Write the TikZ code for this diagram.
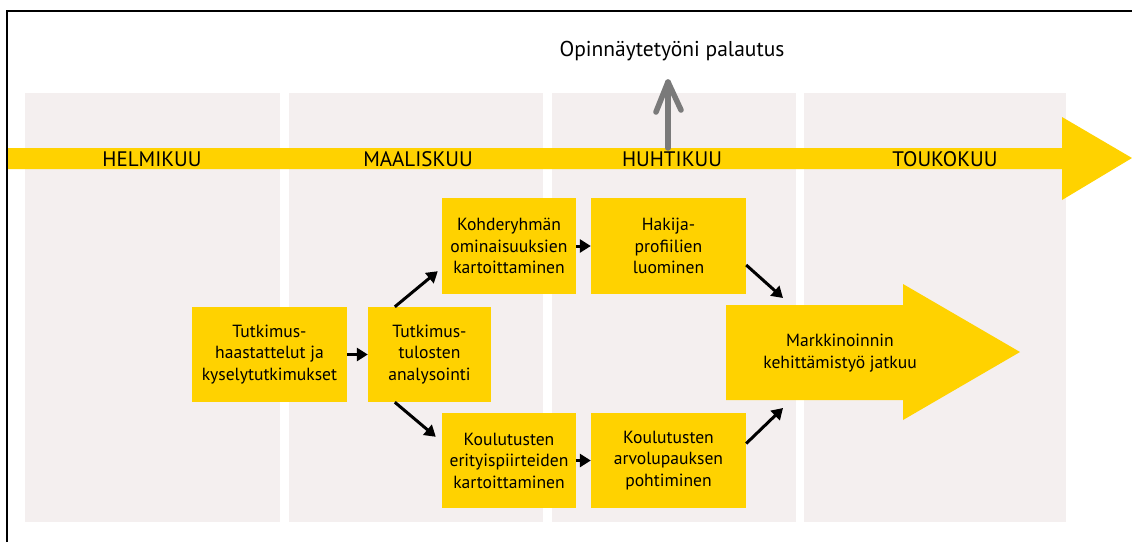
\documentclass[tikz,border=0pt]{standalone}
\usepackage{fontspec}
\setmainfont{PT Sans}
\usetikzlibrary{arrows.meta}

\definecolor{ykeltainen}{HTML}{FFD200}
\definecolor{sarake}{HTML}{F4EFEF}
\definecolor{harmaa}{HTML}{7A7A7A}

\tikzset{
    tehtava/.style={fill=ykeltainen, inner sep=0pt, align=center, font=\fontsize{17.6}{21.5}\selectfont},
    kuukausi/.style={font=\fontsize{21}{24}\selectfont},
    nuoli/.style={line width=3pt, -{Triangle[width=13pt,length=11pt]}}
}

\begin{document}
\begin{tikzpicture}[x=1pt, y=-1pt]
        \useasboundingbox (0, 0) rectangle (1132, 542);

        \draw[line width=2pt] (7, 542) -- (7, 11) -- (1132, 11);

        % kuukausisarakkeet
        \fill[sarake] (25, 93) rectangle (280, 522);
        \fill[sarake] (289, 93) rectangle (543, 522);
        \fill[sarake] (552, 93) rectangle (796, 522);
        \fill[sarake] (804, 93) rectangle (1066, 522);

        % aikajana
        \fill[ykeltainen] (8, 148) -- (1062, 148) -- (1062, 117) -- (1132, 158)
            -- (1062, 200) -- (1062, 169) -- (8, 169) -- cycle;

        \node[kuukausi] (helmi) at (152, 159) {HELMIKUU};
        \node[kuukausi] (maalis) at (418, 159) {MAALISKUU};
        \node[kuukausi] (huhti) at (672, 159) {HUHTIKUU};
        \node[kuukausi] (touko) at (945, 159) {TOUKOKUU};

        \node[font=\fontsize{21.5}{24}\selectfont] (palautus) at (672, 51) {Opinnäytetyöni palautus};
        \coordinate (P0) at (668, 148);
        \coordinate (P1) at (668, 82);
        \draw[harmaa, line width=5.5pt, line cap=round, line join=round] (P0) -- (P1);
        \draw[harmaa, line width=5.5pt, line cap=round, line join=round]
            ([xshift=-12pt, yshift=-30pt]P1) -- (P1) -- ([xshift=13pt, yshift=-28pt]P1);

        % tehtavat
        \node[tehtava, minimum width=155pt, minimum height=95pt] (haast) at (269.5, 354.5)
            {Tutkimus-\\haastattelut ja\\kyselytutkimukset};
        \node[tehtava, minimum width=123pt, minimum height=95pt] (analyysi) at (429.5, 354.5)
            {Tutkimus-\\tulosten\\analysointi};
        \node[tehtava, minimum width=134pt, minimum height=96pt] (kohde) at (509, 246)
            {Kohderyhmän\\ominaisuuksien\\kartoittaminen};
        \node[tehtava, minimum width=134pt, minimum height=95pt] (erity) at (509, 460.5)
            {Koulutusten\\erityispiirteiden\\kartoittaminen};
        \node[tehtava, minimum width=155pt, minimum height=96pt] (profiili) at (668.5, 246)
            {Hakija-\\profiilien\\luominen};
        \node[tehtava, minimum width=155pt, minimum height=95pt] (lupaus) at (668.5, 460.5)
            {Koulutusten\\arvolupauksen\\pohtiminen};

        % iso nuoli
        \fill[ykeltainen] (726, 305) -- (903, 305) -- (903, 284) -- (1020, 352)
            -- (903, 420) -- (903, 400) -- (726, 400) -- cycle;
        \node[align=center, font=\fontsize{17.6}{21.5}\selectfont] (jatkuu) at (840, 353)
            {Markkinoinnin\\kehittämistyö jatkuu};
        \coordinate (M1) at (783, 298);
        \coordinate (M2) at (783, 408);

        \draw[nuoli] (haast.east) -- (analyysi.west);
        \draw[nuoli] ([xshift=27pt]analyysi.north west) -- ([xshift=-4pt, yshift=23pt]kohde.south west);
        \draw[nuoli] ([xshift=27pt]analyysi.south west) -- ([xshift=-6pt, yshift=-24pt]erity.north west);
        \draw[nuoli] (kohde.east) -- (profiili.west);
        \draw[nuoli] (erity.east) -- (lupaus.west);
        \draw[nuoli] ([yshift=-19pt]profiili.east) -- (M1);
        \draw[nuoli] ([yshift=17pt]lupaus.east) -- (M2);

    \end{tikzpicture}
\end{document}
